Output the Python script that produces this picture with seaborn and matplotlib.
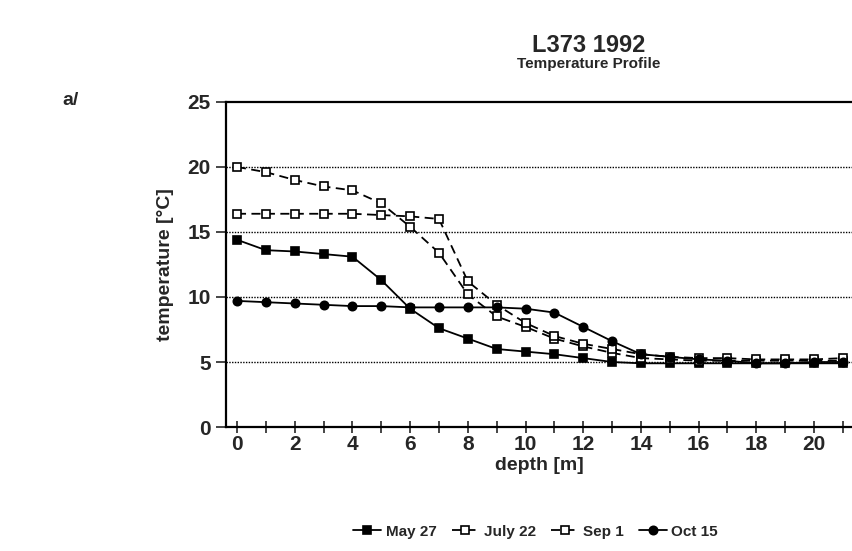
import matplotlib
matplotlib.use("Agg")
import matplotlib.pyplot as plt
import seaborn as sns
import pandas as pd

depth = list(range(0, 22))
may27 = [14.4, 13.6, 13.5, 13.3, 13.1, 11.3, 9.1, 7.6, 6.8, 6.0, 5.8, 5.6, 5.3, 5.0, 4.9, 4.9, 4.9, 4.9, 4.9, 4.9, 4.9, 4.9]
july22 = [20.0, 19.6, 19.0, 18.5, 18.2, 17.2, 15.4, 13.4, 10.2, 8.5, 7.7, 6.8, 6.2, 5.7, 5.3, 5.2, 5.1, 5.1, 5.1, 5.1, 5.1, 5.1]
sep1 = [16.4, 16.4, 16.4, 16.4, 16.4, 16.3, 16.2, 16.0, 11.2, 9.4, 8.0, 7.0, 6.4, 6.0, 5.6, 5.4, 5.3, 5.3, 5.2, 5.2, 5.2, 5.3]
oct15 = [9.7, 9.6, 9.5, 9.4, 9.3, 9.3, 9.2, 9.2, 9.2, 9.2, 9.1, 8.8, 7.7, 6.6, 5.6, 5.4, 5.2, 5.1, 4.9, 4.9, 5.0, 5.0]
series_names = ["May 27", "July 22", "Sep 1", "Oct 15"]

sns.set_style("white")
plt.rcParams['font.family'] = ['Liberation Sans', 'DejaVu Sans']
plt.rcParams['font.weight'] = 'bold'

fig = plt.figure(figsize=(8.53, 5.51), dpi=100)
ax = fig.add_axes([0.265, 0.225, 0.735, 0.59])

styles = {
    "May 27": dict(marker='s', linestyle='-', mfc='black'),
    "July 22": dict(marker='s', linestyle=(0, (5, 3)), mfc='white'),
    "Sep 1": dict(marker='s', linestyle=(0, (5, 3)), mfc='white'),
    "Oct 15": dict(marker='o', linestyle='-', mfc='black'),
}
for name, vals in zip(series_names, [may27, july22, sep1, oct15]):
    df = pd.DataFrame({"depth": depth, "temp": vals})
    st = styles[name]
    sns.lineplot(data=df, x="depth", y="temp", ax=ax, color='black', linewidth=1.3,
                 marker=st['marker'], markersize=6, markerfacecolor=st['mfc'],
                 markeredgecolor='black', markeredgewidth=1.2, label=name,
                 zorder=3)
    ax.lines[-1].set_linestyle(st['linestyle'])

ax.set_xlim(-0.38, 21.35)
ax.set_ylim(0, 25)
ax.set_yticks([0, 5, 10, 15, 20, 25])
ax.set_xticks(range(0, 21, 2))
ax.set_xticks(range(0, 22), minor=True)
for y in [5, 10, 15, 20]:
    ax.axhline(y, color='black', linestyle=(0, (1, 1)), linewidth=1.0, zorder=1)

for s in ['left', 'bottom', 'top']:
    ax.spines[s].set_visible(True)
    ax.spines[s].set_color('black')
    ax.spines[s].set_linewidth(1.6)
ax.spines['right'].set_visible(False)

ax.tick_params(axis='y', which='major', direction='out', length=7, width=1.2, labelsize=15, pad=4, left=True)
ax.tick_params(axis='x', which='both', direction='inout', length=8, width=1.2, labelsize=15, bottom=True, pad=2)
for lab in ax.get_xticklabels() + ax.get_yticklabels():
    lab.set_fontweight('heavy')

ax.set_xlabel("depth [m]", fontsize=14, fontweight='heavy', labelpad=2)
ax.set_ylabel("temperature [°C]", fontsize=14, fontweight='heavy', labelpad=10)

fig.text(0.69, 0.917, "L373 1992", ha='center', va='center', fontsize=17, fontweight='heavy')
fig.text(0.69, 0.883, "Temperature Profile", ha='center', va='center', fontsize=11, fontweight='heavy')
fig.text(0.083, 0.818, "a/", ha='center', va='center', fontsize=14, fontweight='heavy')

handles, labels = ax.get_legend_handles_labels()
if ax.legend_:
    ax.legend_.remove()
fig.legend(handles, labels, loc='center', bbox_to_anchor=(0.628, 0.035), ncol=4, frameon=False,
           handlelength=1.8, handletextpad=0.3, columnspacing=1.0,
           prop={'weight': 'heavy', 'size': 11})

fig.savefig("out.png", dpi=100)
